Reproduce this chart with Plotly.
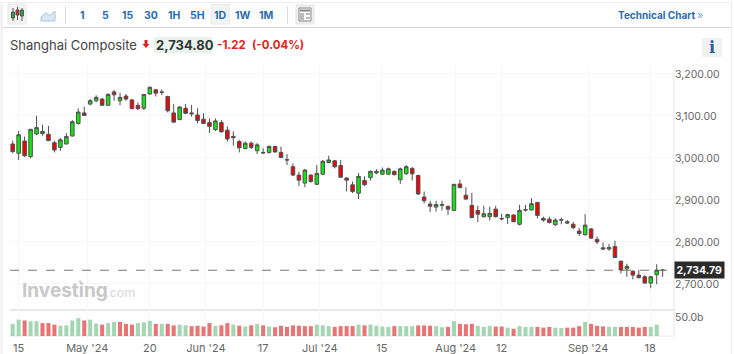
import plotly.graph_objects as go

W, H = 734, 354

opens = [3033,3011,3040,3003,3057,3058,3056,3036,3025,3033,3052,3082,3107,3128,3136,3140,3125,3157,3136,3147,
         3138,3125,3118,3152,3162,3157,3146,3107,3091,3118,3107,3102,3092,3084,3067,3084,3066,3051,3039,3022,
         3035,3017,3013,3013,3027,3013,2996,2979,2959,2940,2959,2937,2961,2989,2993,2982,2952,2936,2916,2946,
         2953,2964,2961,2961,2968,2948,2962,2975,2958,2907,2890,2883,2887,2884,2875,2938,2911,2887,2875,2860,
         2860,2878,2856,2858,2864,2842,2877,2876,2894,2856,2854,2841,2853,2848,2842,2826,2817,2831,2806,2786,
         2783,2789,2754,2736,2730,2721,2717,2702,2722,2732]
highs = [3041,3064,3051,3068,3100,3079,3076,3041,3047,3059,3090,3118,3122,3140,3149,3142,3154,3162,3155,3152,
         3140,3132,3152,3170,3164,3163,3148,3128,3123,3128,3126,3118,3106,3094,3094,3090,3075,3063,3043,3039,
         3039,3035,3023,3030,3029,3027,3009,2987,2967,2974,2961,2983,2995,3005,2995,2995,2954,2944,2964,2956,
         2970,2973,2977,2977,2970,2977,2983,2978,2960,2920,2898,2898,2898,2887,2938,2948,2930,2917,2886,2886,
         2884,2886,2867,2867,2866,2888,2888,2904,2895,2860,2860,2856,2858,2852,2848,2833,2866,2833,2813,2799,
         2795,2803,2756,2748,2733,2733,2721,2719,2747,2735]
lows = [3011,2995,3002,2999,3054,3053,3041,3013,3017,3033,3051,3079,3101,3125,3132,3125,3124,3136,3125,3136,
        3116,3114,3114,3150,3146,3149,3108,3085,3090,3104,3098,3082,3081,3059,3064,3060,3039,3029,3013,3021,
        3021,3009,3009,3010,3013,2999,2983,2957,2933,2930,2941,2936,2959,2987,2975,2952,2920,2916,2902,2933,
        2946,2961,2960,2960,2958,2938,2960,2946,2912,2892,2871,2872,2875,2864,2874,2928,2900,2856,2847,2858,
        2851,2858,2851,2843,2847,2839,2872,2875,2856,2848,2844,2838,2842,2843,2830,2814,2815,2807,2795,2782,
        2779,2762,2725,2717,2711,2713,2701,2690,2699,2717]
closes = [3015,3055,3005,3068,3072,3063,3041,3019,3043,3051,3086,3109,3101,3136,3144,3125,3151,3150,3144,3140,
          3117,3117,3151,3168,3154,3156,3112,3085,3121,3106,3105,3089,3082,3075,3088,3062,3045,3048,3024,3035,
          3025,3031,3012,3027,3014,3001,2995,2959,2947,2971,2944,2963,2992,2995,2979,2954,2947,2920,2956,2936,
          2968,2968,2971,2974,2960,2974,2979,2962,2914,2898,2885,2889,2889,2878,2937,2929,2902,2858,2866,2867,
          2868,2860,2855,2865,2848,2875,2876,2891,2863,2852,2846,2852,2852,2845,2834,2820,2840,2809,2800,2783,
          2787,2763,2733,2742,2721,2715,2702,2717,2733,2733]

volumes = [32,43,41,39,39,34,34,30,27,28,41,47,41,43,33,30,34,37,37,32,
           30,34,36,40,32,32,32,28,30,28,26,27,25,34,27,28,34,30,27,25,
           28,32,28,25,23,27,24,28,27,26,26,30,28,26,24,26,26,26,30,28,
           30,27,25,24,26,26,26,26,28,28,27,26,23,24,39,32,31,32,27,24,
           27,25,25,22,19,26,24,24,24,22,24,22,21,22,22,26,37,32,27,25,
           24,24,24,24,24,22,24,24,30]
vol_letters = ["g","g","r","g","g","r","r","r","g","g","g","g","r","g","g","r","g","g","r","r",
               "r","g","g","g","r","g","r","r","g","g","r","r","r","r","g","r","r","g","r","g",
               "r","g","r","g","r","r","r","r","r","r","r","g","g","g","r","r","r","r","g","r",
               "g","g","g","g","r","g","g","g","r","r","r","g","g","r","g","r","r","r","g","g",
               "g","r","r","g","r","g","g","g","r","r","r","g","g","r","r","r","g","r","r","r",
               "g","g","r","r","r","r","r","g","g"]

tick_positions = [1, 12.5, 23, 32.4, 42, 51.5, 61.9, 74.3, 82, 96.5, 106.9]
tick_labels = ["15", "May '24", "20", "Jun '24", "17", "Jul '24", "15", "Aug '24", "12", "Sep '24", "18"]
price_ticks = [2700, 2800, 2900, 3000, 3100, 3200]
price_labels = ["2,700.00", "2,800.00", "2,900.00", "3,000.00", "3,100.00", "3,200.00"]
volume_ticks = [50]
volume_labels = ["50.0b"]
last_price = 2732.6
last_price_label = "2,734.79"
toolbar_labels = ["1", "5", "15", "30", "1H", "5H", "1D", "1W", "1M"]
toolbar_x = [82, 105, 128, 151, 174, 197, 220, 243, 266]

FONT = "Inter, Liberation Sans, sans-serif"
BLUE = "#2b6cb0"
GREY = "#666666"

def px(x):
    return x / W

def py(y):
    return 1 - y / H

x_idx = list(range(len(opens)))
vol_x = list(range(len(volumes)))
vol_cols = ["#a5d6b3" if c == "g" else "#e87474" for c in vol_letters]

fig = go.Figure()
fig.add_trace(go.Candlestick(
    x=x_idx, open=opens, high=highs, low=lows, close=closes,
    increasing=dict(fillcolor="#10e610", line=dict(color="#505050", width=1)),
    decreasing=dict(fillcolor="#f50000", line=dict(color="#505050", width=1)),
    whiskerwidth=0, xaxis="x", yaxis="y", hoverinfo="skip"))
fig.add_trace(go.Bar(x=vol_x, y=volumes, marker=dict(color=vol_cols, line=dict(width=0)),
                     width=0.68, xaxis="x", yaxis="y2", hoverinfo="skip"))

shapes = []
def rect(x0, y0, x1, y1, fill="rgba(0,0,0,0)", line="rgba(0,0,0,0)", lw=1):
    shapes.append(dict(type="rect", xref="paper", yref="paper", x0=px(x0), x1=px(x1), y0=py(y0), y1=py(y1),
                       fillcolor=fill, line=dict(color=line, width=lw), layer="below"))
def seg(x0, y0, x1, y1, color, lw=1, layer="below"):
    shapes.append(dict(type="line", xref="paper", yref="paper", x0=px(x0), x1=px(x1), y0=py(y0), y1=py(y1),
                       line=dict(color=color, width=lw), layer=layer))

seg(1.5, 3, 1.5, 354, "#eeeeee", 2)
seg(1, 2.5, 732, 2.5, "#eeeeee", 1)
seg(731.5, 3, 731.5, 354, "#eeeeee", 1)
seg(2, 27.5, 731, 27.5, "#d6d6d6", 1)
seg(65.5, 6, 65.5, 24, "#dddddd", 1)
seg(287.5, 6, 287.5, 24, "#dddddd", 1)
rect(8, 4, 26, 24, fill="#f3f3f3", line="#e6e6e6")
rect(211, 4.5, 229.5, 24, fill="#f1f3f5", line="#eaeaea")
rect(296, 5, 314, 24, fill="#eeeeee", line="#e6e6e6")
for cx, top, bottom, b0, b1, col in [(13, 8, 21, 12, 18, "#22aa33"), (17.5, 7, 20, 10, 15, "#dd2222"), (22, 8, 21, 10, 16, "#22aa33")]:
    seg(cx, top, cx, bottom, "#555555", 1)
    rect(cx - 1.5, b0, cx + 1.5, b1, fill=col, line="#555555")
shapes.append(dict(type="path", xref="paper", yref="paper", layer="below",
                   path=f"M {px(41)},{py(21)} L {px(41)},{py(17)} L {px(46)},{py(13)} L {px(50)},{py(15.5)} L {px(55)},{py(11)} L {px(55)},{py(21)} Z",
                   fillcolor="#dbe7f3", line=dict(color="#a9c3de", width=1)))
rect(299, 8, 311, 21, fill="#fafafa", line="#888888")
rect(300, 9.5, 310, 11.5, fill="#888888")
rect(300, 13, 304, 20, fill="#bbbbbb")
rect(306, 13, 310, 15, fill="#bbbbbb")
rect(306, 17, 310, 19, fill="#bbbbbb")
rect(154, 37, 212, 53, fill="#e9f3ee")
shapes.append(dict(type="path", xref="paper", yref="paper", layer="below",
                   path=f"M {px(144.5)},{py(40)} L {px(147.5)},{py(40)} L {px(147.5)},{py(44)} L {px(149.5)},{py(44)} L {px(146)},{py(48)} L {px(142.5)},{py(44)} L {px(144.5)},{py(44)} Z",
                   fillcolor="#e02020", line=dict(width=0)))
rect(702, 38, 722, 57, fill="#f0f1f2")
seg(10, 310, 674, 310, "#e0e0e0", 1.5)
seg(10, 336, 674, 336, "#e8e8e8", 1)
seg(674, 65, 674, 336, "#e6e6e6", 1)
rect(79, 280.5, 81, 282.5, fill="#f4c58f")
shapes.append(dict(type="line", xref="x domain", yref="y", x0=0, x1=1, y0=last_price, y1=last_price,
                   line=dict(color="#777777", width=1, dash="dash"), layer="above"))

ann = []
def text(x, y, s, size=12, color="#333333", anchor="left", bold=False, family=FONT, **kw):
    ann.append(dict(xref="paper", yref="paper", x=px(x), y=py(y), text=f"<b>{s}</b>" if bold else s,
                    showarrow=False, xanchor=anchor, yanchor="middle",
                    font=dict(size=size, color=color, family=family), **kw))

for lab, tx in zip(toolbar_labels, toolbar_x):
    text(tx, 15, lab, size=10.5, color=BLUE, anchor="center", bold=True)
text(615.5, 15, "Technical Chart", size=10, color=BLUE, bold=True)
text(695, 15, "»", size=11, color="#7fa8d4")
text(8, 44.5, "Shanghai Composite", size=13, color="#444444")
text(153.5, 45, "2,734.80", size=13, color="#333333", bold=True)
text(215.5, 44.5, "-1.22", size=11.5, color="#e0261f", bold=True)
text(249.5, 44.5, "(-0.04%)", size=11.5, color="#e0261f", bold=True)
text(712, 47.5, "i", size=16, color="#2b5f9e", anchor="center", bold=True, family="DejaVu Serif")
text(20, 290.5, "Investing", size=19, color="#c8c8c8", bold=True)
text(103.5, 292.5, ".com", size=12.5, color="#d8d8d8")
ann.append(dict(xref="paper", yref="y", x=px(674), y=last_price, text=f"<b>{last_price_label}</b>", showarrow=False,
                xanchor="left", yanchor="middle", bgcolor="#2a2a2a", borderpad=1.5,
                font=dict(size=10.5, color="#ffffff", family=FONT)))

fig.update_layout(
    width=W, height=H, margin=dict(l=0, r=0, t=0, b=0), autosize=False,
    paper_bgcolor="#ffffff", plot_bgcolor="#ffffff", showlegend=False, boxgap=0.15, bargap=0.3,
    shapes=shapes, annotations=ann,
    xaxis=dict(domain=[px(10), px(674)], range=[-0.45, 110.9], anchor="y2", rangeslider=dict(visible=False),
               automargin=False, tickmode="array", tickvals=tick_positions, ticktext=tick_labels, showgrid=True,
               gridcolor="#f6f6f6", gridwidth=1, zeroline=False, showline=False, ticks="outside", ticklen=2,
               tickcolor="#eeeeee", tickfont=dict(size=11, color=GREY, family=FONT), tickangle=0, fixedrange=True),
    yaxis=dict(domain=[py(310), py(65)], range=[2638, 3221], side="right", anchor="x", tickmode="array",
               automargin=False, tickvals=price_ticks, ticktext=price_labels, showgrid=True, gridcolor="#f6f6f6",
               zeroline=False, showline=False, ticks="", tickfont=dict(size=10.5, color=GREY, family=FONT)),
    yaxis2=dict(domain=[py(336), py(310)], range=[0, 68.5], side="right", anchor="x", tickmode="array",
                automargin=False, tickvals=volume_ticks, ticktext=volume_labels, showgrid=False, zeroline=False,
                showline=False, ticks="", tickfont=dict(size=10.5, color=GREY, family=FONT)),
)

fig.write_html("out.html", config={"displayModeBar": False},
               post_script="document.documentElement.style.margin='0';document.body.style.margin='0';"
                           "document.documentElement.style.overflow='hidden';document.body.style.overflow='hidden';")
